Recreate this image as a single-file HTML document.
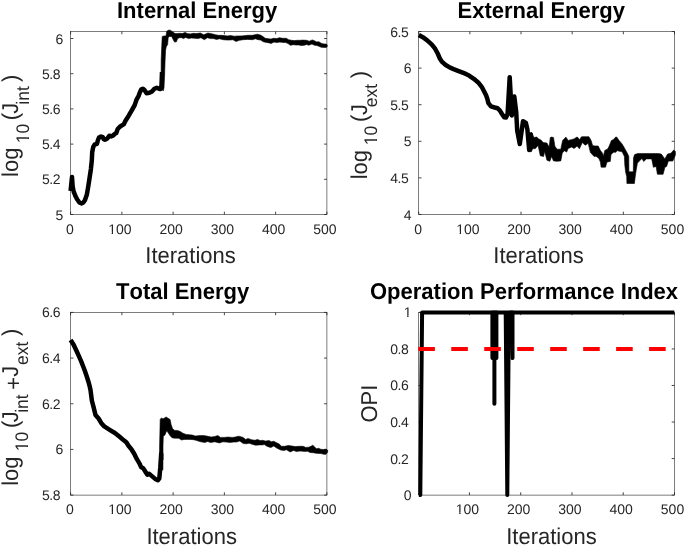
<!DOCTYPE html>
<html><head><meta charset="utf-8"><style>
html,body{margin:0;padding:0;background:#fff;}
svg{display:block;}
text{font-family:"Liberation Sans",sans-serif;text-rendering:geometricPrecision;font-kerning:none;}
.tk{font-size:14px;fill:#262626;}
.ti{font-size:22px;font-weight:bold;fill:#000;}
.lb{font-size:22px;fill:#262626;}
.yl text{fill:#262626;}
</style></head><body>
<svg width="685" height="546" viewBox="0 0 685 546">
<defs><filter id="bl" filterUnits="userSpaceOnUse" x="0" y="0" width="685" height="546"><feOffset dx="0" dy="0"/></filter></defs>
<rect width="685" height="546" fill="#fff"/>
<g filter="url(#bl)">
<rect x="70.6" y="31.5" width="256.3" height="183" fill="none" stroke="#262626" stroke-width="0.6"/>
<path d="M70.6 214.5v-2.8M70.6 31.5v2.8M121.86 214.5v-2.8M121.86 31.5v2.8M173.12 214.5v-2.8M173.12 31.5v2.8M224.38 214.5v-2.8M224.38 31.5v2.8M275.64 214.5v-2.8M275.64 31.5v2.8M326.9 214.5v-2.8M326.9 31.5v2.8M70.6 214.5h2.8M326.9 214.5h-2.8M70.6 179.3h2.8M326.9 179.3h-2.8M70.6 144.1h2.8M326.9 144.1h-2.8M70.6 108.9h2.8M326.9 108.9h-2.8M70.6 73.7h2.8M326.9 73.7h-2.8M70.6 38.5h2.8M326.9 38.5h-2.8" stroke="#262626" stroke-width="0.85" fill="none"/>
<text x="70" y="233.5" text-anchor="middle" class="tk">0</text>
<text x="119.86" y="233.5" text-anchor="middle" class="tk">100</text>
<rect x="108.45" y="231.6" width="3.18" height="3.1" fill="#fff"/><rect x="113.01" y="231.6" width="2.69" height="3.1" fill="#fff"/>
<text x="171.12" y="233.5" text-anchor="middle" class="tk">200</text>
<text x="222.38" y="233.5" text-anchor="middle" class="tk">300</text>
<text x="273.64" y="233.5" text-anchor="middle" class="tk">400</text>
<text x="324.9" y="233.5" text-anchor="middle" class="tk">500</text>
<text x="63.4" y="219.5" text-anchor="end" class="tk">5</text>
<text x="60.15" y="184.3" text-anchor="end" class="tk" letter-spacing="-0.45">5.2</text>
<text x="60.15" y="149.1" text-anchor="end" class="tk" letter-spacing="-0.45">5.4</text>
<text x="60.15" y="113.9" text-anchor="end" class="tk" letter-spacing="-0.45">5.6</text>
<text x="60.15" y="78.7" text-anchor="end" class="tk" letter-spacing="-0.45">5.8</text>
<text x="63.4" y="43.5" text-anchor="end" class="tk">6</text>
<rect x="418.7" y="31.5" width="255.8" height="183" fill="none" stroke="#262626" stroke-width="0.6"/>
<path d="M418.7 214.5v-2.8M418.7 31.5v2.8M469.86 214.5v-2.8M469.86 31.5v2.8M521.02 214.5v-2.8M521.02 31.5v2.8M572.18 214.5v-2.8M572.18 31.5v2.8M623.34 214.5v-2.8M623.34 31.5v2.8M674.5 214.5v-2.8M674.5 31.5v2.8M418.7 214.5h2.8M674.5 214.5h-2.8M418.7 177.9h2.8M674.5 177.9h-2.8M418.7 141.3h2.8M674.5 141.3h-2.8M418.7 104.7h2.8M674.5 104.7h-2.8M418.7 68.1h2.8M674.5 68.1h-2.8M418.7 31.5h2.8M674.5 31.5h-2.8" stroke="#262626" stroke-width="0.85" fill="none"/>
<text x="418.1" y="233.5" text-anchor="middle" class="tk">0</text>
<text x="467.86" y="233.5" text-anchor="middle" class="tk">100</text>
<rect x="456.45" y="231.6" width="3.18" height="3.1" fill="#fff"/><rect x="461.01" y="231.6" width="2.69" height="3.1" fill="#fff"/>
<text x="519.02" y="233.5" text-anchor="middle" class="tk">200</text>
<text x="570.18" y="233.5" text-anchor="middle" class="tk">300</text>
<text x="621.34" y="233.5" text-anchor="middle" class="tk">400</text>
<text x="672.5" y="233.5" text-anchor="middle" class="tk">500</text>
<text x="411.5" y="219.5" text-anchor="end" class="tk">4</text>
<text x="408.25" y="182.9" text-anchor="end" class="tk" letter-spacing="-0.45">4.5</text>
<text x="411.5" y="146.3" text-anchor="end" class="tk">5</text>
<text x="408.25" y="109.7" text-anchor="end" class="tk" letter-spacing="-0.45">5.5</text>
<text x="411.5" y="73.1" text-anchor="end" class="tk">6</text>
<text x="408.25" y="36.5" text-anchor="end" class="tk" letter-spacing="-0.45">6.5</text>
<rect x="70.6" y="312.4" width="256.3" height="182.7" fill="none" stroke="#262626" stroke-width="0.6"/>
<path d="M70.6 495.1v-2.8M70.6 312.4v2.8M121.86 495.1v-2.8M121.86 312.4v2.8M173.12 495.1v-2.8M173.12 312.4v2.8M224.38 495.1v-2.8M224.38 312.4v2.8M275.64 495.1v-2.8M275.64 312.4v2.8M326.9 495.1v-2.8M326.9 312.4v2.8M70.6 495.1h2.8M326.9 495.1h-2.8M70.6 449.43h2.8M326.9 449.43h-2.8M70.6 403.75h2.8M326.9 403.75h-2.8M70.6 358.07h2.8M326.9 358.07h-2.8M70.6 312.4h2.8M326.9 312.4h-2.8" stroke="#262626" stroke-width="0.85" fill="none"/>
<text x="70" y="514.3" text-anchor="middle" class="tk">0</text>
<text x="119.86" y="514.3" text-anchor="middle" class="tk">100</text>
<rect x="108.45" y="512.4" width="3.18" height="3.1" fill="#fff"/><rect x="113.01" y="512.4" width="2.69" height="3.1" fill="#fff"/>
<text x="171.12" y="514.3" text-anchor="middle" class="tk">200</text>
<text x="222.38" y="514.3" text-anchor="middle" class="tk">300</text>
<text x="273.64" y="514.3" text-anchor="middle" class="tk">400</text>
<text x="324.9" y="514.3" text-anchor="middle" class="tk">500</text>
<text x="60.15" y="500.1" text-anchor="end" class="tk" letter-spacing="-0.45">5.8</text>
<text x="63.4" y="454.43" text-anchor="end" class="tk">6</text>
<text x="60.15" y="408.75" text-anchor="end" class="tk" letter-spacing="-0.45">6.2</text>
<text x="60.15" y="363.07" text-anchor="end" class="tk" letter-spacing="-0.45">6.4</text>
<text x="60.15" y="317.4" text-anchor="end" class="tk" letter-spacing="-0.45">6.6</text>
<rect x="418.7" y="312.4" width="255.8" height="182.7" fill="none" stroke="#262626" stroke-width="0.6"/>
<path d="M469.45 495.1v-2.8M469.45 312.4v2.8M520.71 495.1v-2.8M520.71 312.4v2.8M571.97 495.1v-2.8M571.97 312.4v2.8M623.24 495.1v-2.8M623.24 312.4v2.8M674.5 495.1v-2.8M674.5 312.4v2.8M418.7 495.1h2.8M674.5 495.1h-2.8M418.7 458.56h2.8M674.5 458.56h-2.8M418.7 422.02h2.8M674.5 422.02h-2.8M418.7 385.48h2.8M674.5 385.48h-2.8M418.7 348.94h2.8M674.5 348.94h-2.8M418.7 312.4h2.8M674.5 312.4h-2.8" stroke="#262626" stroke-width="0.85" fill="none"/>
<text x="467.45" y="514.3" text-anchor="middle" class="tk">100</text>
<rect x="456.04" y="512.4" width="3.18" height="3.1" fill="#fff"/><rect x="460.6" y="512.4" width="2.69" height="3.1" fill="#fff"/>
<text x="518.71" y="514.3" text-anchor="middle" class="tk">200</text>
<text x="569.97" y="514.3" text-anchor="middle" class="tk">300</text>
<text x="621.24" y="514.3" text-anchor="middle" class="tk">400</text>
<text x="672.5" y="514.3" text-anchor="middle" class="tk">500</text>
<text x="411.5" y="500.1" text-anchor="end" class="tk">0</text>
<text x="408.25" y="463.56" text-anchor="end" class="tk" letter-spacing="-0.45">0.2</text>
<text x="408.25" y="427.02" text-anchor="end" class="tk" letter-spacing="-0.45">0.4</text>
<text x="408.25" y="390.48" text-anchor="end" class="tk" letter-spacing="-0.45">0.6</text>
<text x="408.25" y="353.94" text-anchor="end" class="tk" letter-spacing="-0.45">0.8</text>
<text x="411.5" y="317.4" text-anchor="end" class="tk">1</text>
<rect x="403.99" y="315.5" width="3.18" height="3.1" fill="#fff"/><rect x="408.54" y="315.5" width="2.69" height="3.1" fill="#fff"/>
<text transform="translate(117 17.8) scale(1 1.04)" class="ti">Internal Energy</text>
<text transform="translate(457.5 17.8) scale(1 1.04)" class="ti">External Energy</text>
<text transform="translate(116 298.6) scale(1 1.04)" class="ti">Total Energy</text>
<text transform="translate(370 298.5) scale(1 1.04)" class="ti">Operation Performance Index</text>
<text transform="translate(145.3 262.6) scale(1 1.04)" class="lb">Iterations</text>
<text transform="translate(493.3 262.7) scale(1 1.04)" class="lb">Iterations</text>
<text transform="translate(146.4 543.6) scale(1 1.04)" class="lb">Iterations</text>
<text transform="translate(506.2 543.6) scale(1 1.04)" class="lb">Iterations</text>
<g class="yl">
<g transform="translate(18.4 176.9) rotate(-90) scale(1 1.04)"><text font-size="22">log</text></g>
<g transform="translate(28.9 143.3) rotate(-90) scale(1 1.04)"><text font-size="17.5">10</text><rect x="0.34" y="-2.3" width="3.97" height="3.5" fill="#fff"/><rect x="6.03" y="-2.3" width="3.37" height="3.5" fill="#fff"/></g>
<g transform="translate(18.4 120.3) rotate(-90) scale(1 1.04)"><text font-size="22">(</text></g>
<g transform="translate(18.4 113.8) rotate(-90) scale(1 1.04)"><text font-size="22">J</text></g>
<g transform="translate(28.9 104.7) rotate(-90) scale(1 1.04)"><text font-size="17.5">int</text></g>
<g transform="translate(18.4 82.1) rotate(-90) scale(1 1.04)"><text font-size="22">)</text></g>
<g transform="translate(366.5 179.3) rotate(-90) scale(1 1.04)"><text font-size="22">log</text></g>
<g transform="translate(377.4 145.2) rotate(-90) scale(1 1.04)"><text font-size="17.5">10</text><rect x="0.34" y="-2.3" width="3.97" height="3.5" fill="#fff"/><rect x="6.03" y="-2.3" width="3.37" height="3.5" fill="#fff"/></g>
<g transform="translate(366.5 122.0) rotate(-90) scale(1 1.04)"><text font-size="22">(</text></g>
<g transform="translate(366.5 115.1) rotate(-90) scale(1 1.04)"><text font-size="22">J</text></g>
<g transform="translate(377.4 107.2) rotate(-90) scale(1 1.04)"><text font-size="17.5">ext</text></g>
<g transform="translate(366.5 78.3) rotate(-90) scale(1 1.04)"><text font-size="22">)</text></g>
<g transform="translate(18.4 485.8) rotate(-90) scale(1 1.04)"><text font-size="22">log</text></g>
<g transform="translate(28.4 451.3) rotate(-90) scale(1 1.04)"><text font-size="17.5">10</text><rect x="0.34" y="-2.3" width="3.97" height="3.5" fill="#fff"/><rect x="6.03" y="-2.3" width="3.37" height="3.5" fill="#fff"/></g>
<g transform="translate(18.4 428.1) rotate(-90) scale(1 1.04)"><text font-size="22">(</text></g>
<g transform="translate(18.4 422.2) rotate(-90) scale(1 1.04)"><text font-size="22">J</text></g>
<g transform="translate(28.4 412.8) rotate(-90) scale(1 1.04)"><text font-size="17.5">int</text></g>
<g transform="translate(21.0 389.8) rotate(-90) scale(1 1.04)"><text font-size="22">+</text></g>
<g transform="translate(18.4 376.8) rotate(-90) scale(1 1.04)"><text font-size="22">J</text></g>
<g transform="translate(28.4 365.0) rotate(-90) scale(1 1.04)"><text font-size="17.5">ext</text></g>
<g transform="translate(18.4 335.9) rotate(-90) scale(1 1.04)"><text font-size="22">)</text></g>
<g transform="translate(377.0 422.6) rotate(-90) scale(1 1.04)"><text font-size="22">OPI</text></g>
</g>
<g fill="none" stroke="#000" stroke-width="4.5" stroke-linejoin="round" stroke-linecap="butt">
<polyline points="70.6,191.0 72.0,177.0 72.6,186.0 73.5,191.1 75.3,195.7 77.1,199.3 79.4,202.5 81.7,203.5 83.5,202.3 84.9,200.3 86.8,194.8 88.1,187.4 89.5,178.3 90.9,169.1 91.8,160.5 92.2,152.2 93.2,147.1 94.6,144.5 97.0,143.8 97.8,140.5 99.0,137.5 101.0,136.5 102.8,137.2 103.8,139.4 105.3,139.7 107.5,138.3 109.3,135.7 111.1,136.4 113.0,135.7 114.8,133.9 116.3,133.0 117.7,129.0 120.5,126.2 123.7,124.4 125.5,120.7 128.7,115.7 131.9,110.2 134.7,105.1 136.5,99.7 138.4,96.4 139.7,92.8 141.1,89.6 142.9,88.7 144.8,90.5 146.6,93.2 149.3,92.8 152.1,91.4 154.4,88.7 156.7,87.7 159.0,88.7 160.3,89.0 161.5,85.7 162.0,72.0"/>
<polyline points="418.8,35.0 422.8,37.2 427.2,40.3 431.6,44.3 435.1,48.7 437.7,53.5 440.0,58.8 442.1,61.9 445.7,65.0 450.1,67.6 453.6,69.1 458.0,70.8 463.3,72.8 465.0,73.6 469.4,75.8 473.8,78.8 478.2,82.4 481.7,86.8 484.3,91.7 486.2,95.5 487.3,98.7 488.4,103.1 491.0,106.4 494.7,107.5 497.6,108.2 500.1,110.8 502.0,114.0 504.2,117.3 506.0,117.5 507.6,114.0 509.7,77.2 511.8,115.5 514.3,96.5 516.2,112.0 517.2,130.5 519.8,144.0 523.0,121.2 525.9,123.0 527.4,129.6 529.2,150.0 530.7,134.5 532.5,146.6"/>
<polyline points="70.6,340.0 73.5,344.5 76.8,351.5 79.0,356.4 81.2,361.4 83.1,366.3 85.0,371.3 86.7,376.2 88.3,381.2 89.5,385.6 90.5,390.0 91.9,400.8 93.0,405.0 93.8,407.9 95.5,415.0 98.6,418.5 101.2,422.9 104.3,426.4 107.0,428.1 110.5,430.3 114.9,433.0 119.3,436.6 122.8,439.5 126.3,442.2 128.7,446.0 131.4,449.2 134.2,453.7 136.9,459.2 139.7,463.8 141.0,467.0 143.3,468.4 145.6,472.0 147.4,474.8 149.3,473.9 152.5,476.6 155.2,478.9 158.0,480.3 159.3,478.5 160.3,467.5 161.2,453.7 161.2,460.0"/>
</g>
<polygon points="161.0,88.0 161.2,60.0 161.6,50.0 162.2,36.5 164.1,35.9 166.0,36.0 166.7,31.3 168.8,30.1 170.8,30.4 172.3,31.8 174.0,33.0 175.8,33.6 177.5,33.6 179.9,33.3 182.2,33.6 185.1,32.4 187.4,33.6 190.4,33.9 193.3,33.3 196.2,33.6 200.3,33.0 203.8,34.8 207.9,33.0 212.6,33.9 215.5,34.8 218.4,35.3 221.4,35.3 224.3,35.6 227.2,35.9 230.7,35.6 234.2,36.2 238.3,35.9 241.8,35.9 247.7,35.3 252.4,35.3 254.7,34.8 257.3,34.2 260.5,35.1 262.9,36.5 265.2,38.3 268.7,38.8 271.0,39.1 273.4,38.3 276.9,38.6 279.3,37.7 282.8,38.3 286.3,38.3 288.6,39.7 291.5,40.3 294.4,40.6 297.4,40.3 300.3,40.3 302.6,40.1 306.6,40.3 309.2,41.2 312.3,39.9 314.5,40.8 316.7,41.9 318.9,41.7 321.1,43.2 323.8,43.9 326.4,44.1 327.2,45.0 327.2,46.6 326.4,47.4 323.8,47.4 321.1,47.2 318.9,46.3 316.7,45.4 314.5,45.2 311.9,44.1 308.8,45.2 306.6,44.5 304.4,45.2 301.8,45.4 300.9,45.6 299.1,45.0 296.2,45.0 293.3,44.7 290.4,45.3 288.0,43.5 285.7,42.6 282.8,42.4 279.8,42.1 276.9,42.6 274.0,42.1 271.0,43.5 269.3,42.9 266.4,42.4 263.4,41.8 260.5,40.0 258.2,39.7 255.3,38.8 252.4,39.7 247.7,39.4 243.0,39.7 239.5,40.3 236.0,41.5 233.0,39.7 230.1,40.0 226.6,40.0 223.1,39.7 219.6,38.8 216.7,39.4 213.2,38.6 210.3,38.6 207.3,37.7 204.4,39.7 200.9,37.7 198.0,38.6 195.0,38.3 191.5,38.0 188.6,38.6 185.7,37.4 183.4,38.6 181.6,37.7 179.3,37.7 177.5,38.8 176.4,41.8 174.6,42.1 173.1,39.4 171.7,36.5 169.3,36.5 168.2,37.7 167.6,44.7 166.4,46.4 165.6,50.0 165.1,60.0 164.6,75.0 164.0,88.0 163.2,91.0" fill="#000" stroke="#000" stroke-width="0.6" stroke-linejoin="round"/>
<polygon points="159.4,470.0 159.6,446.0 160.2,419.5 161.4,417.9 163.0,418.9 164.5,417.9 166.1,417.0 168.0,418.2 170.1,419.5 171.1,424.5 172.6,428.8 174.8,430.4 177.3,430.4 179.8,431.3 182.9,433.2 186.0,434.4 189.2,434.7 192.3,435.1 195.4,436.0 200.1,435.6 203.6,435.6 207.7,436.2 211.2,437.1 214.7,436.5 217.9,435.6 220.5,437.4 224.0,437.4 228.1,437.1 232.2,437.4 234.0,437.3 238.7,436.2 242.8,437.3 245.7,439.4 248.0,438.5 251.5,439.7 255.0,440.3 257.4,439.4 260.3,440.6 262.6,440.3 265.5,441.1 269.0,440.6 271.4,441.7 273.8,441.3 276.7,442.8 279.6,444.3 281.3,446.3 284.8,446.3 288.4,445.4 291.9,446.0 295.4,446.6 298.9,446.3 303.1,446.3 305.7,447.4 308.8,447.2 311.0,446.3 312.8,445.2 314.5,446.8 316.3,448.8 318.5,448.3 320.7,449.2 323.3,449.6 326.0,449.2 327.9,450.5 327.3,452.7 326.0,454.3 323.8,454.3 321.1,453.6 318.5,453.4 315.8,453.2 313.2,452.7 310.1,452.5 307.5,451.2 304.8,451.4 302.6,451.2 300.0,451.0 296.5,451.6 293.6,450.4 290.1,451.9 286.6,449.8 283.7,450.4 280.8,450.1 276.7,448.1 273.8,446.0 270.8,447.6 267.3,446.4 264.4,444.6 262.0,444.9 259.1,444.9 255.6,445.2 252.7,444.4 249.2,443.2 246.3,443.8 243.3,443.5 239.8,441.1 236.3,442.0 233.4,442.1 229.9,442.4 226.4,442.1 222.9,441.8 219.4,442.9 214.7,441.8 210.6,442.6 207.7,441.5 204.8,442.4 200.7,441.8 196.0,440.3 193.5,439.7 190.4,439.4 187.3,439.4 184.2,439.4 181.7,440.0 178.6,438.2 175.4,438.2 172.3,437.9 170.1,435.7 168.0,432.6 166.7,430.7 164.9,435.1 163.3,436.3 163.0,446.0 162.9,470.0" fill="#000" stroke="#000" stroke-width="0.6" stroke-linejoin="round"/>
<polygon points="531.0,132.5 532.2,133.1 533.7,137.5 536.6,137.1 538.8,138.9 541.0,140.0 543.2,142.6 546.9,143.0 549.1,147.0 550.3,137.5 551.5,137.1 553.5,137.5 554.9,146.3 557.1,149.2 560.8,149.2 562.6,140.4 565.9,137.1 568.1,140.4 571.1,139.7 574.0,138.9 576.9,137.1 577.9,137.5 579.4,139.7 581.6,136.7 588.9,136.7 591.1,140.4 592.6,145.5 594.8,145.9 598.2,146.0 600.4,150.4 602.6,153.3 603.3,156.6 604.8,150.4 607.7,148.9 609.2,146.0 611.4,140.5 613.6,139.4 615.4,137.2 616.7,137.0 618.9,140.3 621.5,143.2 623.5,146.2 625.5,150.0 627.5,153.5 628.8,156.5 628.9,171.8 633.3,171.8 633.5,158.0 634.6,154.6 637.6,153.6 652.5,153.6 658.7,153.6 661.3,154.1 664.9,158.9 667.5,154.1 671.0,153.2 673.6,150.1 675.4,151.4 675.4,155.0 672.8,161.1 668.4,161.1 666.6,166.4 664.9,167.3 663.1,174.3 657.4,174.3 656.1,166.4 653.4,167.3 651.7,158.9 646.4,158.9 643.7,161.5 642.0,158.5 639.3,161.1 637.4,163.2 636.2,170.0 635.3,176.0 634.4,183.5 626.9,183.5 626.7,176.5 625.6,172.0 624.8,165.0 624.4,156.5 622.6,152.8 621.5,151.6 620.5,151.4 619.3,151.3 617.1,150.5 616.0,152.2 613.6,152.2 611.0,154.4 610.3,161.4 607.0,162.1 605.5,167.2 601.1,167.2 600.4,162.1 598.9,158.4 596.0,156.2 594.1,156.5 590.4,152.5 588.2,143.3 585.3,145.2 582.3,142.6 579.4,148.8 577.2,146.3 576.9,146.3 574.0,148.5 571.8,147.0 568.1,148.5 566.7,152.1 564.5,150.7 562.3,152.9 560.8,160.9 557.1,161.3 553.5,160.9 551.6,156.5 549.8,161.3 546.9,160.2 544.7,151.4 543.6,156.5 540.3,155.8 538.1,145.5 535.1,148.8 532.9,148.5 531.0,152.1" fill="#000" stroke="#000" stroke-width="0.6" stroke-linejoin="round"/>
<g fill="none" stroke="#000" stroke-width="4.0" stroke-linejoin="round" stroke-linecap="butt">
<polyline points="418.9,495.1 420.3,495.1 422.1,312.4 674.3,312.4"/>
<path stroke-linecap="round" d="M492.4 312.4V358.1M494.4 312.4V403.8M496.4 312.4V358.1"/>
<polyline points="505.7,312.4 507.3,495.1 508.9,312.4"/>
<polyline stroke-linecap="round" points="510.6,312.4 512.5,358.1 512.5,312.4"/>
</g>
<line x1="418.3" y1="348.9" x2="674.5" y2="348.9" stroke="#f00" stroke-width="4" stroke-dasharray="16.6 16.37"/>
</g>
</svg>
</body></html>
